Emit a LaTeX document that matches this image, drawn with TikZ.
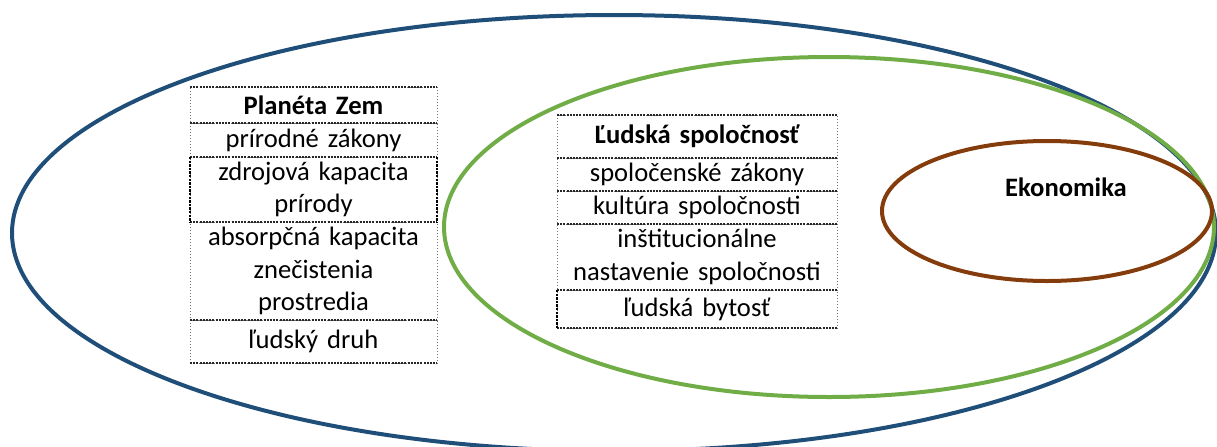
\documentclass[tikz,border=0pt]{standalone}
\usepackage{fontspec}
\setmainfont{Carlito}
\usetikzlibrary{shapes.geometric}
\definecolor{earthblue}{RGB}{31,78,121}
\definecolor{socgreen}{RGB}{112,173,71}
\definecolor{econbrown}{RGB}{132,60,12}
\begin{document}
\begin{tikzpicture}[x=0.5pt,y=-0.5pt,
  ring/.style={ellipse, draw, line width=2pt, inner sep=0pt, outer sep=0pt},
  cell/.style={draw=black!55, densely dotted, line width=0.5pt, align=center, inner sep=0pt, outer sep=0pt, font=\fontsize{13.3}{16.2}\selectfont},
  cellL/.style={cell, text width=123.5pt},
  cellR/.style={cell, text width=140pt},
  rule/.style={draw=black!85, densely dashed, dash pattern=on 1pt off 0.6pt, line width=0.6pt},
  strongside/.style={draw=black, dash pattern=on 1.2pt off 0.6pt, line width=0.9pt},
  labeltext/.style={font=\fontsize{13.3}{16.2}\selectfont\bfseries, inner sep=0pt}]
\useasboundingbox (0,0) rectangle (1217,446);
\begin{scope}
\clip (0,0) rectangle (1217,446);
\node[ring, draw=earthblue, minimum width=602pt, minimum height=218pt] (earth) at (614,233) {};
\node[ring, draw=socgreen, minimum width=385pt, minimum height=170pt] (society) at (829,227) {};
\node[ring, draw=econbrown, minimum width=165pt, minimum height=70pt] (economy) at (1047,211) {};
\end{scope}
\node[labeltext] (ekon) at (1066,187) {Ekonomika};

% Planéta Zem table
\node[cellL, minimum height=18pt] (pz1) at (313.5,105) {\bfseries Planéta Zem};
\node[cellL, minimum height=17pt] (pz2) at (313.5,140) {prírodné zákony};
\node[cellL, minimum height=32.5pt] (pz3) at (313.5,189.5) {zdrojová kapacita\\prírody};
\node[cellL, minimum height=49pt] (pz4) at (313.5,271) {absorpčná kapacita\\znečistenia\\prostredia};
\node[cellL, minimum height=21.5pt] (pz5) at (313.5,341.5) {ľudský druh};
\foreach \c in {pz1,pz2,pz3,pz4,pz5}{
  \draw[rule] (\c.north west) -- (\c.north east);
  \draw[rule] (\c.south west) -- (\c.south east);
}
\draw[strongside] (pz3.north west) -- (pz3.south west);
\draw[strongside] (pz3.north east) -- (pz3.south east);

% Ľudská spoločnosť table
\node[cellR, minimum height=21.5pt] (ls1) at (697,136.5) {\bfseries Ľudská spoločnosť};
\node[cellR, minimum height=16.5pt] (ls2) at (697,174.5) {spoločenské zákony};
\node[cellR, minimum height=16.5pt] (ls3) at (697,207.5) {kultúra spoločnosti};
\node[cellR, minimum height=33pt] (ls4) at (697,257) {inštitucionálne\\nastavenie spoločnosti};
\node[cellR, minimum height=19pt] (ls5) at (697,309) {ľudská bytosť};
\foreach \c in {ls1,ls2,ls3,ls4,ls5}{
  \draw[rule] (\c.north west) -- (\c.north east);
  \draw[rule] (\c.south west) -- (\c.south east);
}
\draw[strongside] (ls5.north west) -- (ls5.south west);
\end{tikzpicture}
\end{document}
